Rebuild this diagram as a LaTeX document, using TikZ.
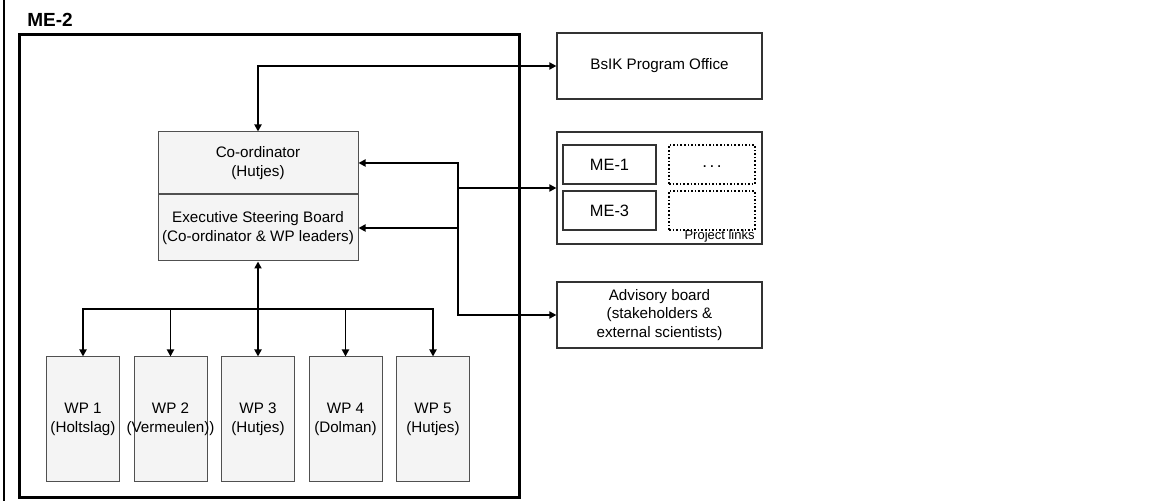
\documentclass[tikz,border=0pt]{standalone}
\usepackage{fontspec}
\setmainfont{Liberation Sans}
\usetikzlibrary{arrows.meta}

\definecolor{boxfill}{RGB}{244,244,244}
\definecolor{boxline}{RGB}{80,80,80}

\tikzset{
  unit/.style={draw=boxline, fill=boxfill, line width=0.5pt, align=center, inner sep=0pt},
  ext/.style={draw=black!80, line width=0.6pt, align=center, inner sep=0pt},
  dotbox/.style={draw, densely dotted, line width=0.8pt, inner sep=0pt},
  link/.style={line width=0.9pt, -{Triangle[length=3.5pt,width=3.5pt]}},
  dlink/.style={line width=0.9pt, {Triangle[length=3.5pt,width=3.5pt]}-{Triangle[length=3.5pt,width=3.5pt]}},
}

\begin{document}
\begin{tikzpicture}[x=0.5pt, y=-0.5pt, font=\fontsize{7.6}{9.3}\selectfont]
  \useasboundingbox (0,0) rectangle (1161,501);
  \draw[line width=1.2pt] (4,0) -- (4,501);

  % ME-2 project frame
  \node[draw, line width=1.5pt, minimum width=250pt, minimum height=231.5pt, inner sep=0pt] (me2) at (269.5,266.5) {};
  \node[anchor=base west, inner sep=0pt, font=\bfseries\fontsize{9.5}{11}\selectfont] (me2lab) at (27,27) {ME-2};

  \node[unit, minimum width=100pt, minimum height=31pt] (coord) at (258,163) {Co-ordinator\\(Hutjes)};
  \node[unit, minimum width=100pt, minimum height=33pt, anchor=north] (esb) at (coord.south) {Executive Steering Board\\(Co-ordinator \& WP leaders)};

  \foreach \i/\cx/\who in {1/83/Holtslag, 2/170.5/Vermeulen), 3/258/Hutjes, 4/345.5/Dolman, 5/433/Hutjes}
    \node[unit, minimum width=36.5pt, minimum height=62.5pt] (wp\i) at (\cx,419.5) {WP \i\\\makebox[0pt]{(\who)}};

  % outside the project
  \node[ext, minimum width=102.5pt, minimum height=33pt] (bsik) at (659.5,66) {BsIK Program Office};
  \node[ext, minimum width=102.5pt, minimum height=56pt] (links) at (659.5,188) {};
  \node[ext, minimum width=46.5pt, minimum height=19.5pt, font=\fontsize{8.2}{10}\selectfont] (me1) at (609.5,164.5) {ME-1};
  \node[ext, minimum width=46.5pt, minimum height=19.5pt, font=\fontsize{8.2}{10}\selectfont] (me3) at (609.5,210.5) {ME-3};
  \node[dotbox, minimum width=43pt, minimum height=19.5pt, font=\fontsize{8.6}{10}\selectfont] (more) at (712,164.5) {\raisebox{-3pt}{.\kern1.2pt.\kern1.2pt.}};
  \node[dotbox, minimum width=43pt, minimum height=19.5pt] (spare) at (712,210.5) {};
  \node[anchor=base east, inner sep=0pt, font=\fontsize{6.5}{7}\selectfont] (linklab) at (755,240) {Project links};
  \node[ext, minimum width=102.5pt, minimum height=33pt] (advice) at (659.5,315) {Advisory board\\(stakeholders \&\\external scientists)};

  \coordinate (hub) at (458,0);
  \coordinate (fork) at (258,309);

  \draw[dlink] (coord.north) |- (bsik.west);
  \draw[dlink] (coord.east) -| (hub |- advice.west) -- (advice.west);
  \draw[link] (hub |- esb.east) -- (esb.east);
  \draw[link] (hub |- links.west) -- (links.west);
  \draw[dlink] (esb.south) -- (wp3.north);
  \foreach \i in {1,2,4,5}
    \draw[link] (fork) -| (wp\i.north);
\end{tikzpicture}
\end{document}
